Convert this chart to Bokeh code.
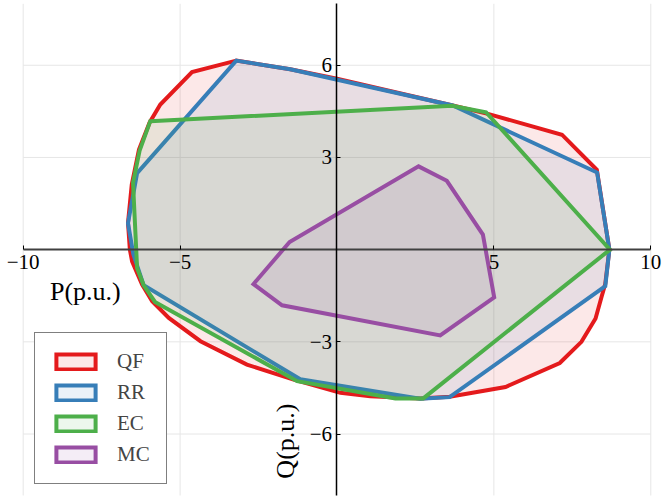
from bokeh.plotting import figure
from bokeh.models import FixedTicker, Label, Legend, LegendItem
from bokeh.embed import file_html
from bokeh.resources import INLINE
import math

# QF region vertices (P, Q)
qf_p = [-3.21, -4.62, -5.63, -5.97, -6.31, -6.54, -6.66, -6.60, -6.53, -6.21, -5.89, -5.36,
        -4.35, -2.87, -1.38, 0.11, 1.06, 2.65, 3.59, 5.37, 7.10, 7.79, 8.24, 8.43, 8.55,
        8.68, 8.28, 7.17, 4.84, 3.69, 0.0, -1.49]
qf_q = [6.15, 5.78, 4.72, 4.14, 3.26, 2.12, 0.87, 0.0, -0.38, -1.14, -1.68, -2.22,
        -2.98, -3.74, -4.23, -4.66, -4.77, -4.84, -4.79, -4.47, -3.69, -3.00, -2.24, -1.54, -1.11,
        0.0, 2.60, 3.74, 4.41, 4.69, 5.56, 5.87]

# RR region vertices
rr_p = [-3.21, -1.49, 3.69, 8.29, 8.68, 8.55, 3.59, 2.65, -1.17, -6.16, -6.49, -6.66, -6.37]
rr_q = [6.15, 5.87, 4.69, 2.51, 0.0, -1.19, -4.80, -4.85, -4.22, -1.16, -0.15, 0.86, 2.49]

# EC region vertices
ec_p = [-5.95, 3.67, 4.75, 8.70, 2.75, 1.86, -1.27, -5.80, -6.16, -6.37, -6.50, -6.29]
ec_q = [4.18, 4.68, 4.47, 0.0, -4.84, -4.84, -4.28, -1.70, -1.16, -0.60, 2.17, 3.22]

# MC region vertices
mc_p = [-1.51, -2.66, -1.75, 3.29, 5.01, 4.65, 3.50, 2.60]
mc_q = [0.25, -1.12, -1.81, -2.79, -1.55, 0.49, 2.24, 2.71]

series_names = ["QF", "RR", "EC", "MC"]
series_colors = ["#e41a1c", "#377eb8", "#4daf4a", "#984ea3"]

x_ticks = [-10, -5, 5, 10]
x_tick_labels = ["\u221210", "\u22125", "5", "10"]
y_ticks = [-6, -3, 3, 6]
y_tick_labels = ["\u22126", "\u22123", "3", "6"]
x_lim = (-10, 10)
y_lim = (-8, 8)

FONT = "Liberation Serif"

p = figure(width=664, height=498, x_range=(-10.723, 10.437), y_range=(-8.098, 8.107),
           output_backend="svg", toolbar_location=None,
           min_border_left=0, min_border_right=0, min_border_top=0, min_border_bottom=0)
p.outline_line_color = None
p.background_fill_color = "white"
p.grid.visible = False

# grid lines limited to the axis limits
p.segment(x0=x_ticks, y0=[y_lim[0]] * len(x_ticks), x1=x_ticks, y1=[y_lim[1]] * len(x_ticks),
          line_color="#e6e6e6", line_width=1)
p.segment(x0=[x_lim[0]] * len(y_ticks), y0=y_ticks, x1=[x_lim[1]] * len(y_ticks), y1=y_ticks,
          line_color="#e6e6e6", line_width=1)

renderers = []
for (xs, ys), name, col in zip([(qf_p, qf_q), (rr_p, rr_q), (ec_p, ec_q), (mc_p, mc_q)],
                               series_names, series_colors):
    r = p.patch(xs, ys, fill_color=col, fill_alpha=0.1, line_color=col, line_width=4,
                line_join="miter")
    renderers.append(r)

for ax, ticks, labels, lim in [(p.xaxis, x_ticks, x_tick_labels, x_lim),
                               (p.yaxis, y_ticks, y_tick_labels, y_lim)]:
    ax.fixed_location = 0
    ax.bounds = lim
    ax.ticker = FixedTicker(ticks=ticks)
    ax.major_label_overrides = {t: l for t, l in zip(ticks, labels)}
    ax.minor_tick_line_color = None
    ax.major_tick_in = 4
    ax.major_tick_out = 0
    ax.major_label_standoff = 5
    ax.major_label_text_font = FONT
    ax.major_label_text_font_size = "21px"
    ax.major_label_text_color = "black"
    ax.major_tick_line_color = "black"
p.xaxis.axis_line_color = "#404040"
p.xaxis.axis_line_width = 2
p.yaxis.axis_line_color = "black"
p.yaxis.axis_line_width = 1.5

p.add_layout(Label(x=-8.02, y=-1.36, text="P(p.u.)", text_align="center", text_baseline="middle",
                   text_font=FONT, text_font_size="26px", text_color="black"))
p.add_layout(Label(x=-1.65, y=-6.23, text="Q(p.u.)", text_align="center", text_baseline="middle",
                   angle=math.pi / 2, text_font=FONT, text_font_size="26px", text_color="black"))

legend = Legend(items=[LegendItem(label=n, renderers=[r]) for n, r in zip(series_names, renderers)],
                location=(34, 14))
legend.border_line_color = "black"
legend.border_line_width = 1
legend.background_fill_color = "white"
legend.background_fill_alpha = 1
legend.label_text_font = FONT
legend.label_text_font_size = "21px"
legend.glyph_width = 49
legend.glyph_height = 19
legend.label_height = 19
legend.label_standoff = 17
legend.padding = 16
legend.spacing = 6
legend.margin = 0
p.add_layout(legend)

open("out.html", "w").write(file_html(p, INLINE))
